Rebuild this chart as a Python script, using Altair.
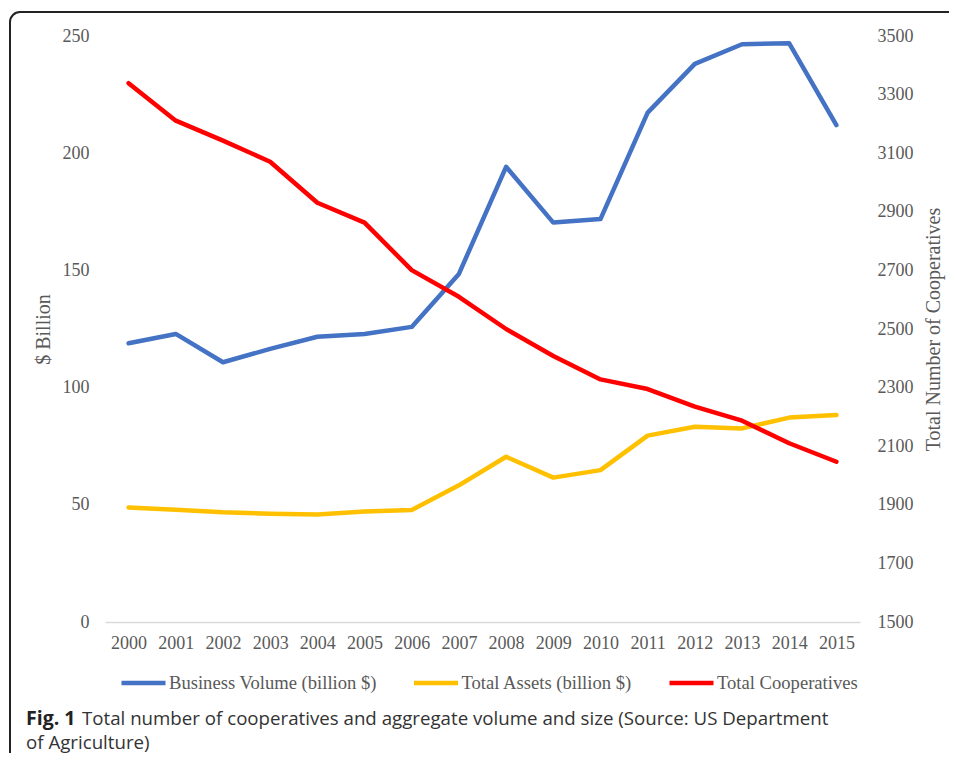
import altair as alt
import pandas as pd

years = [str(y) for y in range(2000, 2016)]
business_volume = [118.9, 122.9, 110.8, 116.5, 121.7, 122.9, 125.9, 148.5,
                   194.2, 170.4, 171.9, 217.3, 238.1, 246.5, 246.9, 212.0]
total_assets = [48.9, 47.9, 46.8, 46.2, 45.9, 47.1, 47.8, 58.3,
                70.5, 61.6, 64.8, 79.5, 83.3, 82.6, 87.2, 88.3]
total_coops = [3339, 3211, 3143, 3071, 2931, 2863, 2701, 2610,
               2500, 2408, 2328, 2295, 2235, 2187, 2110, 2047]
series_names = ["Business Volume (billion $)", "Total Assets (billion $)", "Total Cooperatives"]
series_colors = ["#4472C4", "#FFC000", "#FF0000"]
left_ticks = [0, 50, 100, 150, 200, 250]
right_ticks = [1500, 1700, 1900, 2100, 2300, 2500, 2700, 2900, 3100, 3300, 3500]
left_title = "$ Billion"
right_title = "Total Number of Cooperatives"
caption_bold = "Fig. 1"
caption_line1 = "Total number of cooperatives and aggregate volume and size (Source: US Department"
caption_line2 = "of Agriculture)"

SERIF = "Liberation Serif"
GREY = "#595959"
CAP_FONT = "Open Sans"

left_df = pd.DataFrame({
    "year": years * 2,
    "value": business_volume + total_assets,
    "series": [series_names[0]] * len(years) + [series_names[1]] * len(years),
})
right_df = pd.DataFrame({
    "year": years,
    "coops": total_coops,
    "series": [series_names[2]] * len(years),
})

x_enc = alt.X(
    "year:O",
    sort=years,
    scale=alt.Scale(type="point", padding=0.5),
    axis=alt.Axis(title=None, labelAngle=0, ticks=False, grid=False,
                  domainColor="#D9D9D9", domainWidth=1.5, labelPadding=12,
                  labelFont=SERIF, labelFontSize=18, labelColor=GREY),
)

color_enc = alt.Color(
    "series:N",
    scale=alt.Scale(domain=series_names, range=series_colors),
    legend=alt.Legend(orient="none", legendX=14, legendY=622, direction="horizontal",
                      symbolType="stroke", symbolSize=1936, symbolStrokeWidth=4.5,
                      labelFont=SERIF, labelFontSize=18.6, labelColor=GREY,
                      columnPadding=27.5, labelOffset=1, title=None, labelLimit=0,
                      padding=0),
)

left = alt.Chart(left_df).mark_line(strokeWidth=4.5, strokeCap="round", strokeJoin="round").encode(
    x=x_enc,
    y=alt.Y("value:Q", scale=alt.Scale(domain=[0, 250], nice=False),
            axis=alt.Axis(orient="left", values=left_ticks, title=left_title, grid=False,
                          domain=False, ticks=False, labelPadding=16, format="d",
                          labelFont=SERIF, labelFontSize=18, labelColor=GREY,
                          titleFont=SERIF, titleFontSize=20, titleFontWeight="normal",
                          titleColor=GREY, titlePadding=9)),
    color=color_enc,
)

right = alt.Chart(right_df).mark_line(strokeWidth=4.5, strokeCap="round", strokeJoin="round").encode(
    x=x_enc,
    y=alt.Y("coops:Q", scale=alt.Scale(domain=[1500, 3500], nice=False),
            axis=alt.Axis(orient="right", values=right_ticks, title=right_title, grid=False,
                          domain=False, ticks=False, labelPadding=17, format="d",
                          labelFont=SERIF, labelFontSize=18, labelColor=GREY,
                          titleFont=SERIF, titleFontSize=20, titleFontWeight="normal",
                          titleColor=GREY, titlePadding=10, titleAngle=270,
                          titleBaseline="top")),
    color=alt.Color("series:N"),
)

one = pd.DataFrame({"k": [1]})

frame = alt.Chart(one).mark_rect(fill="white", fillOpacity=0, stroke="#222222",
                                 strokeWidth=2, cornerRadius=10).encode(
    x=alt.value(-95), x2=alt.value(900), y=alt.value(-24), y2=alt.value(800)
)

cap_b = alt.Chart(one).mark_text(text=caption_bold, font=CAP_FONT, fontSize=19.5,
                                 fontWeight="bold", align="left", baseline="alphabetic",
                                 color="#222222").encode(
    x=alt.value(-79), y=alt.value(689))
cap_1 = alt.Chart(one).mark_text(text=caption_line1, font=CAP_FONT, fontSize=18.7,
                                 align="left", baseline="alphabetic",
                                 color="#333333").encode(
    x=alt.value(-23), y=alt.value(689))
cap_2 = alt.Chart(one).mark_text(text=caption_line2, font=CAP_FONT, fontSize=18.7,
                                 align="left", baseline="alphabetic",
                                 color="#333333").encode(
    x=alt.value(-79), y=alt.value(713))

chart = alt.layer(left, right, frame, cap_b, cap_1, cap_2).resolve_scale(
    y="independent"
).properties(
    width=755, height=586,
    padding={"left": 97, "top": 28, "right": 89, "bottom": 131},
    autosize=alt.AutoSizeParams(type="none"),
).configure_view(stroke=None)

chart.save("out.html", embed_options={"renderer": "svg", "actions": False})
